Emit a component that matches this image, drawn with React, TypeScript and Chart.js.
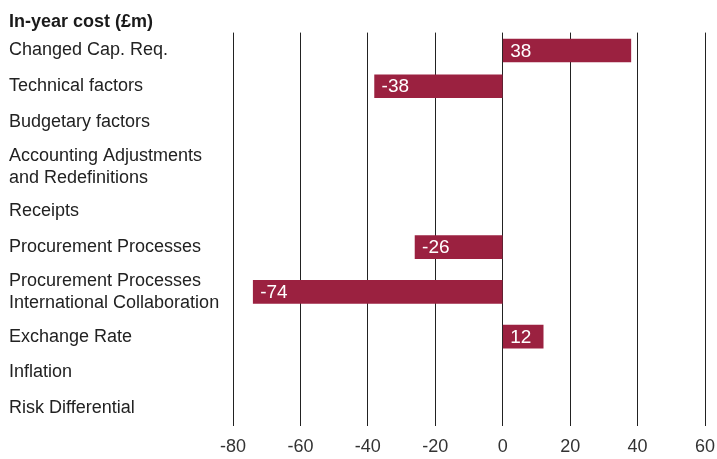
import React, { useEffect, useRef } from "react";
import { Chart, registerables, CategoryScale } from "chart.js";

// Category scale whose rows are sized by the number of lines in each label
class WeightedCategoryScale extends CategoryScale {
  static id = "weightedCategory";
  static defaults = (CategoryScale as any).defaults;

  _rowWeights(): number[] {
    const labels = (this as any).getLabels() as (string | string[])[];
    return labels.map((l) => (Array.isArray(l) && l.length > 1 ? 1.5 : 1));
  }

  getPixelForValue(value: any) {
    const idx = typeof value === "number" ? value : (this as any).parse(value);
    if (idx === null || idx === undefined || isNaN(idx)) return NaN;
    const w = this._rowWeights();
    const total = w.reduce((a, b) => a + b, 0);
    const i = Math.round(idx);
    let cum = 0;
    for (let k = 0; k < i && k < w.length; k++) cum += w[k];
    cum += (w[i] ?? 1) / 2;
    const self = this as any;
    return self.top + (cum / total) * (self.bottom - self.top);
  }
}

Chart.register(...registerables, WeightedCategoryScale);

const categories: (string | string[])[] = [
  "Changed Cap. Req.",
  "Technical factors",
  "Budgetary factors",
  ["Accounting Adjustments", "and Redefinitions"],
  "Receipts",
  "Procurement Processes",
  ["Procurement Processes", "International Collaboration"],
  "Exchange Rate",
  "Inflation",
  "Risk Differential",
];

const inYearCost: (number | null)[] = [38, -38, null, null, null, -26, -74, 12, null, null];

const xMin = -80;
const xMax = 60;
const xStep = 20;

const titleText = "In-year cost (£m)";

const FONT = "'Liberation Sans', Arial, Helvetica, sans-serif";
const BAR_COLOR = "#9B2140";

const valueLabels = {
  id: "valueLabels",
  afterDatasetsDraw(chart: any) {
    const ctx = chart.ctx;
    const meta = chart.getDatasetMeta(0);
    const data = chart.data.datasets[0].data;
    ctx.save();
    ctx.font = `19px ${FONT}`;
    ctx.fillStyle = "#ffffff";
    ctx.textAlign = "left";
    ctx.textBaseline = "middle";
    meta.data.forEach((bar: any, i: number) => {
      const v = data[i];
      if (v === null || v === undefined) return;
      const left = Math.min(bar.x, bar.base);
      ctx.fillText(String(v), left + 7, bar.y + 1);
    });
    ctx.restore();
  },
};

export default function App() {
  const ref = useRef<HTMLCanvasElement | null>(null);
  useEffect(() => {
    if (!ref.current) return;
    const chart = new Chart(ref.current, {
      type: "bar",
      data: {
        labels: categories,
        datasets: [
          {
            data: inYearCost,
            backgroundColor: BAR_COLOR,
            borderWidth: 0,
            barThickness: 23,
          },
        ],
      },
      plugins: [valueLabels],
      options: {
        indexAxis: "y",
        animation: false,
        responsive: true,
        maintainAspectRatio: false,
        layout: { padding: { left: 9, right: 0, top: 0, bottom: 1 } },
        plugins: {
          legend: { display: false },
          tooltip: { enabled: false },
          title: {
            display: true,
            text: titleText,
            align: "start",
            color: "#1a1a1a",
            font: { family: FONT, size: 18, weight: "bold" },
            padding: { top: 11, bottom: 0 },
          },
        },
        scales: {
          x: {
            type: "linear",
            min: xMin,
            max: xMax,
            ticks: {
              stepSize: xStep,
              color: "#333333",
              padding: 10,
              font: { family: FONT, size: 18 },
            },
            grid: {
              color: "#222222",
              lineWidth: 1,
              drawTicks: false,
            },
            border: { display: false },
            afterFit: (scale: any) => {
              scale.height = 32;
              scale.paddingRight = 12;
            },
          },
          y: {
            type: "weightedCategory" as any,
            ticks: {
              crossAlign: "far",
              autoSkip: false,
              color: "#222222",
              padding: 0,
              font: { family: FONT, size: 18, lineHeight: 1.22 },
            },
            grid: { display: false, drawTicks: false },
            border: { display: false },
            afterFit: (scale: any) => {
              scale.width = 224;
            },
          },
        },
      },
    });
    return () => chart.destroy();
  }, []);
  return (
    <div style={{ position: "absolute", left: 0, top: 0, width: 717, height: 459 }}>
      <canvas ref={ref} />
    </div>
  );
}
